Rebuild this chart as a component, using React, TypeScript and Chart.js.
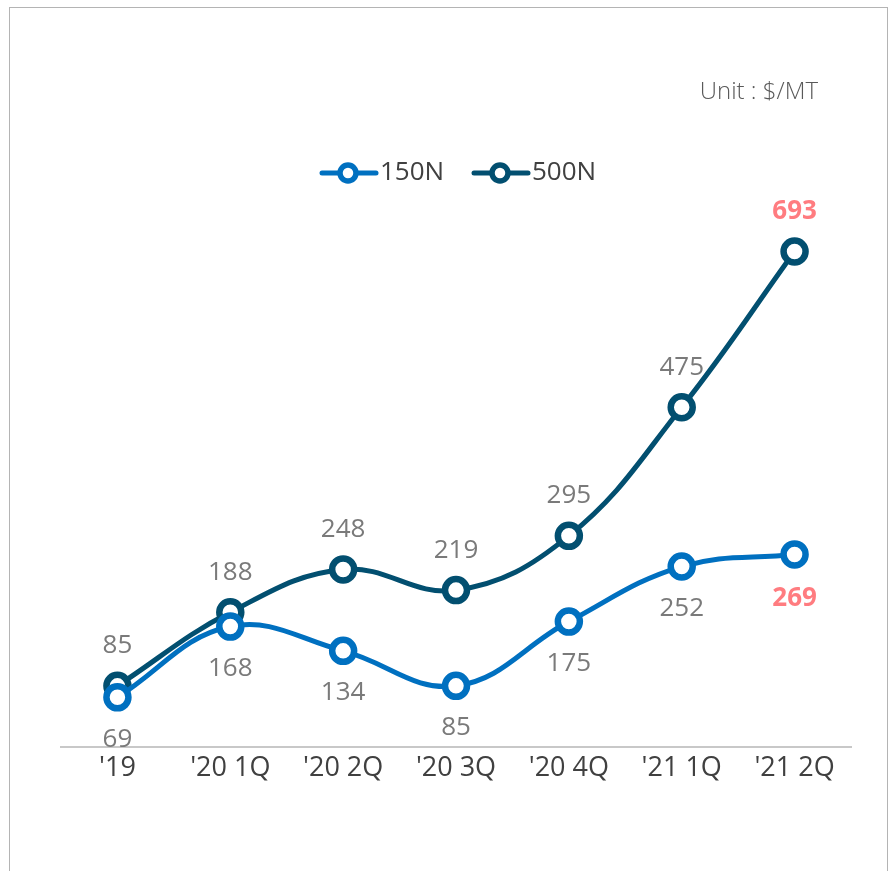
import React, { useEffect, useRef } from "react";
import { Chart, registerables } from "chart.js";

Chart.register(...registerables);

const categories = ["'19", "'20 1Q", "'20 2Q", "'20 3Q", "'20 4Q", "'21 1Q", "'21 2Q"];
const series150N = [69, 168, 134, 85, 175, 252, 269];
const series500N = [85, 188, 248, 219, 295, 475, 693];
const seriesNames = ["150N", "500N"];
const unitText = "Unit : $/MT";

const COLOR_150 = "#0070C0";
const COLOR_500 = "#024F70";
const FONT = "'Open Sans', 'Noto Sans', sans-serif";

const overlayPlugin = {
  id: "overlay",
  afterDatasetsDraw(chart: any) {
    const ctx = chart.ctx;
    ctx.save();
    // data labels
    chart.data.datasets.forEach((ds: any, di: number) => {
      const meta = chart.getDatasetMeta(di);
      const n = ds.data.length;
      meta.data.forEach((pt: any, i: number) => {
        const last = i === n - 1;
        ctx.textAlign = "center";
        ctx.textBaseline = "middle";
        ctx.font = (last ? "bold " : "") + "26px " + FONT;
        ctx.fillStyle = last ? "#FF7C80" : "#7A7A7A";
        const dy = di === 1 ? -40 : last ? 44 : 42;
        ctx.fillText(String(ds.data[i]), pt.x, pt.y + dy);
      });
    });
    // unit text
    ctx.font = "300 24px " + FONT;
    ctx.fillStyle = "#595959";
    ctx.textAlign = "right";
    ctx.textBaseline = "middle";
    ctx.fillText(unitText, 818, 92);
    // legend
    const items = [
      { x0: 320, color: COLOR_150, name: seriesNames[0] },
      { x0: 472, color: COLOR_500, name: seriesNames[1] },
    ];
    const ly = 173;
    items.forEach((it) => {
      ctx.strokeStyle = it.color;
      ctx.lineWidth = 5;
      ctx.lineCap = "round";
      ctx.beginPath();
      ctx.moveTo(it.x0 + 2, ly);
      ctx.lineTo(it.x0 + 56, ly);
      ctx.stroke();
      ctx.beginPath();
      ctx.arc(it.x0 + 28, ly, 8, 0, Math.PI * 2);
      ctx.fillStyle = "#fff";
      ctx.fill();
      ctx.lineWidth = 5.5;
      ctx.stroke();
      ctx.fillStyle = "#404040";
      ctx.font = "26px " + FONT;
      ctx.textAlign = "left";
      ctx.textBaseline = "middle";
      ctx.fillText(it.name, it.x0 + 60, ly);
    });
    ctx.restore();
  },
};

export default function App() {
  const ref = useRef<HTMLCanvasElement>(null);
  useEffect(() => {
    if (!ref.current) return;
    const chart = new Chart(ref.current, {
      type: "line",
      data: {
        labels: categories,
        datasets: [
          {
            label: seriesNames[0],
            data: series150N,
            borderColor: COLOR_150,
            backgroundColor: "#ffffff",
            borderWidth: 5,
            tension: 0.4,
            pointRadius: 11,
            pointBorderWidth: 6.5,
            pointBackgroundColor: "#ffffff",
            pointBorderColor: COLOR_150,
          },
          {
            label: seriesNames[1],
            data: series500N,
            borderColor: COLOR_500,
            backgroundColor: "#ffffff",
            borderWidth: 5,
            tension: 0.4,
            pointRadius: 11,
            pointBorderWidth: 6.5,
            pointBackgroundColor: "#ffffff",
            pointBorderColor: COLOR_500,
          },
        ],
      },
      options: {
        animation: false,
        responsive: false,
        maintainAspectRatio: false,
        layout: { padding: { top: 175, left: 61, right: 43, bottom: 80 } },
        plugins: { legend: { display: false }, tooltip: { enabled: false } },
        scales: {
          x: {
            offset: true,
            grid: { display: false, drawTicks: false },
            border: { display: true, color: "#C8C8C8", width: 2 },
            ticks: {
              color: "#404040",
              font: { size: 27, family: FONT },
              padding: 6,
              autoSkip: false,
              maxRotation: 0,
            },
          },
          y: {
            display: false,
            min: 0,
            max: 800,
          },
        },
      },
      plugins: [overlayPlugin],
    });
    return () => chart.destroy();
  }, []);
  return (
    <div>
      <div
        style={{
          position: "fixed",
          left: 9,
          top: 7,
          width: 877,
          height: 900,
          border: "1px solid #B4B4B4",
          background: "#fff",
        }}
      />
      <canvas
        ref={ref}
        width={894}
        height={871}
        style={{ position: "fixed", left: 0, top: 0, width: 894, height: 871 }}
      />
    </div>
  );
}
